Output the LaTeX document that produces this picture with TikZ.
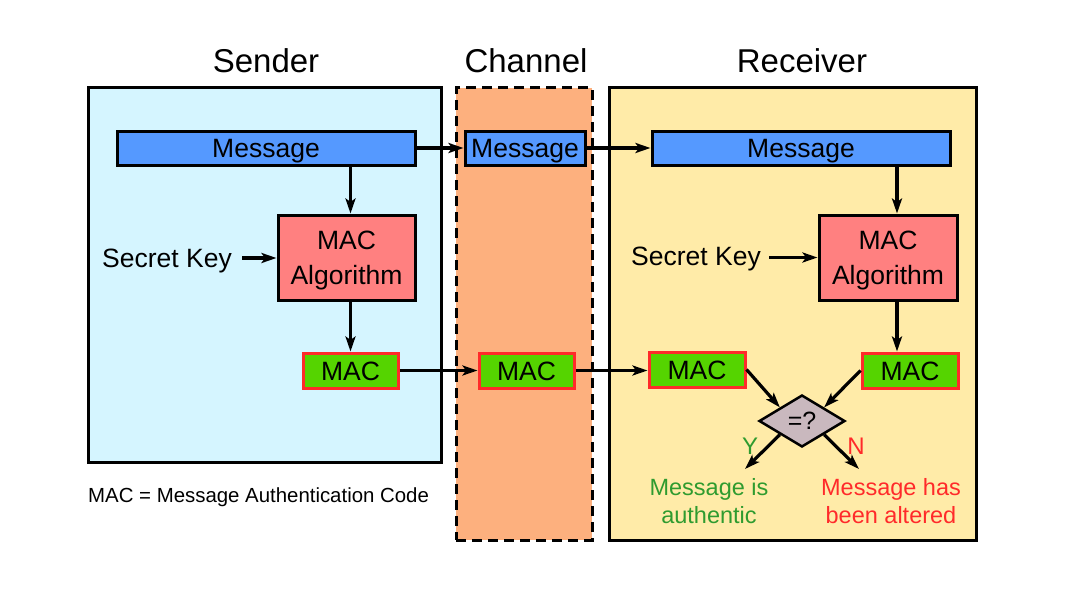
\documentclass[tikz,border=0pt]{standalone}
\usepackage{fontspec}
\setmainfont{Liberation Sans}
\usetikzlibrary{arrows.meta,shapes.geometric}
\definecolor{sendbg}{HTML}{D5F5FF}
\definecolor{chanbg}{HTML}{FDB07E}
\definecolor{recvbg}{HTML}{FFEBA8}
\definecolor{msgblue}{HTML}{5599FF}
\definecolor{algred}{HTML}{FF8080}
\definecolor{macgreen}{HTML}{55D400}
\definecolor{macborder}{HTML}{FF2A2A}
\definecolor{cmpgray}{HTML}{C9B8BE}
\definecolor{okgreen}{HTML}{2F9B2F}
\definecolor{badred}{HTML}{FF2A2A}
\tikzset{
  panel/.style={draw=black, line width=3pt, inner sep=0pt},
  title/.style={font=\fontsize{33}{40}\selectfont, inner sep=0pt, text height=23.6pt, text depth=0pt},
  msgbox/.style={draw=black, fill=msgblue, line width=3pt, minimum height=34pt, inner sep=0pt,
                 font=\fontsize{26.5}{32}\selectfont, text height=19pt, text depth=0pt},
  algbox/.style={draw=black, fill=algred, line width=3pt, minimum width=137pt, minimum height=85pt,
                 inner sep=0pt, align=center, font=\fontsize{26.5}{35}\selectfont},
  macbox/.style={draw=macborder, fill=macgreen, line width=3pt, minimum width=95pt, minimum height=35pt,
                 inner sep=0pt, font=\fontsize{26.5}{32}\selectfont, text height=19pt, text depth=0pt},
  keytext/.style={inner sep=0pt, font=\fontsize{26.5}{32}\selectfont, text height=19pt, text depth=0pt},
  cmp/.style={diamond, draw=black, fill=cmpgray, line width=2.5pt, minimum width=86pt, minimum height=52pt,
              inner sep=0pt, font=\fontsize{25}{30}\selectfont, text height=17.9pt, text depth=0pt},
  arr/.style={line width=3.2pt, -{Stealth[length=15pt,width=10pt,inset=3.5pt]}},
  result/.style={inner sep=0pt, align=center, font=\fontsize{23.5}{28}\selectfont},
  yn/.style={inner sep=0pt, font=\fontsize{24}{28}\selectfont, text height=17.2pt, text depth=0pt}
}
\begin{document}
\begin{tikzpicture}[x=1pt,y=-1pt]
\useasboundingbox[fill=white] (0,0) rectangle (1085,594);

% panels
\node[panel, fill=sendbg, minimum width=353pt, minimum height=374pt] (sender) at (264.5,275) {};
\node[panel, fill=chanbg, dash pattern=on 10pt off 6pt, minimum width=136pt, minimum height=452pt] (channel) at (524,314) {};
\node[panel, fill=recvbg, minimum width=367pt, minimum height=452pt] (receiver) at (792.5,314) {};

% titles
\node[title] (tsend) at (266,61) {Sender};
\node[title] (tchan) at (526,61) {Channel};
\node[title] (trecv) at (802,61) {Receiver};

% messages
\node[msgbox, minimum width=298pt] (smsg) at (266,148) {Message};
\node[msgbox, minimum width=120pt] (cmsg) at (525,148) {Message};
\node[msgbox, minimum width=298pt] (rmsg) at (801,148) {Message};

% MAC algorithms
\node[algbox] (salg) at (346.5,257.5) {\rule{0pt}{24pt}MAC\\Algorithm};
\node[algbox, minimum width=138pt] (ralg) at (888,257.5) {\rule{0pt}{24pt}MAC\\Algorithm};

% secret keys
\node[keytext, anchor=east] (skey) at (232,258) {Secret Key};
\node[keytext, anchor=east] (rkey) at (761,256) {Secret Key};
\coordinate (skeyend) at (242,258);
\coordinate (rkeyend) at (769,257.5);

% MACs
\node[macbox] (smac) at (350.5,370.5) {MAC};
\node[macbox] (cmac) at (526.5,370.5) {MAC};
\node[macbox, minimum width=96pt] (rmac1) at (697,369.5) {MAC};
\node[macbox, minimum width=96pt] (rmac2) at (910,370.5) {MAC};

% comparison
\node[cmp] (cmp) at (802,421) {=?};
\coordinate (yend) at (745,469);
\coordinate (nend) at (859,469);
\node[yn, text=okgreen] (ylab) at (750,446) {Y};
\node[yn, text=badred] (nlab) at (856,446) {N};

\node[result, text=okgreen, anchor=base] (auth) at (709,523) {Message is\\authentic};
\node[result, text=badred, anchor=base] (alt) at (891,523) {Message has\\been altered};

% footnote
\node[inner sep=0pt, anchor=west, font=\fontsize{20.4}{24}\selectfont, text height=14.6pt, text depth=0pt] (note) at (88,495) {MAC = Message Authentication Code};

% connectors
\coordinate (rv) at (897,0);
\draw[arr] (smsg.east) -- (cmsg.west);
\draw[arr] (cmsg.east) -- (rmsg.west);
\draw[arr] (smsg.south -| smac) -- (salg.north -| smac);
\draw[arr] (salg.south -| smac) -- (smac.north);
\draw[arr] (rmsg.south -| rv) -- (ralg.north -| rv);
\draw[arr] (ralg.south -| rv) -- (rmac2.north -| rv);
\draw[arr] (skeyend) -- (salg.west |- skeyend);
\draw[arr] (rkeyend) -- (ralg.west |- rkeyend);
\draw[arr] (smac.east) -- (cmac.west);
\draw[arr] (cmac.east) -- (cmac.east -| rmac1.west);
\draw[arr] (rmac1.east) -- (cmp.north west);
\draw[arr] (rmac2.west) -- (cmp.north east);
\draw[arr] (cmp.south west) -- (yend);
\draw[arr] (cmp.south east) -- (nend);
\end{tikzpicture}
\end{document}
